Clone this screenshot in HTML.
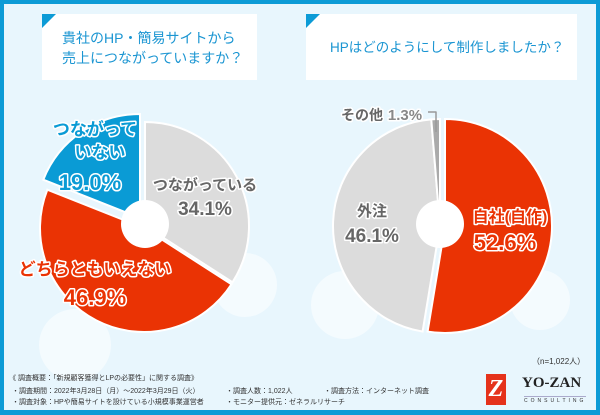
<!DOCTYPE html>
<html><head><meta charset="utf-8">
<style>
body{margin:0;width:600px;height:415px;overflow:hidden;font-family:"Liberation Sans","Noto Sans CJK JP",sans-serif;}
#frame{position:absolute;left:0;top:0;width:600px;height:415px;background:#0c9bd6;}
#inner{position:absolute;left:4px;top:4px;width:592px;height:406px;background:#e8f6fd;}
.tbox{position:absolute;background:#fff;color:#1a95d2;font-size:14px;line-height:20px;white-space:nowrap;}
.tbox .corner{position:absolute;left:0;top:0;width:0;height:0;border-top:14px solid #0c9bd6;border-right:14px solid transparent;}
.note{position:absolute;font-size:7px;line-height:9px;color:#333;white-space:nowrap;}
</style></head><body>
<div id="frame"></div>
<div id="inner"></div>
<div class="tbox" style="left:42px;top:14px;width:215px;height:66px;">
<div class="corner"></div>
<div style="position:absolute;left:20px;top:14px;">貴社のHP・簡易サイトから<br>売上につながっていますか？</div></div>
<div class="tbox" style="left:306px;top:14px;width:271px;height:66px;">
<div class="corner"></div>
<div style="position:absolute;left:24px;top:24px;font-size:13.5px;">HPはどのようにして制作しましたか？</div></div>
<svg id="chart" width="600" height="415" style="position:absolute;left:0;top:0;">
<g fill="#f4fbfe">
<circle cx="245" cy="285" r="32"/><circle cx="75" cy="345" r="36"/><circle cx="345" cy="305" r="34"/><circle cx="540" cy="300" r="30"/>
</g>
<g id="pies"></g>
<g id="labels" font-family="Liberation Sans, Noto Sans CJK JP, sans-serif" font-weight="bold" stroke="#fff" stroke-width="3" paint-order="stroke" stroke-linejoin="round"></g>
</svg>
<div class="note" style="left:532px;top:357px;font-size:8px;">（n=1,022人）</div>
<div class="note" style="left:9px;top:374px;">《 調査概要：「新規顧客獲得とLPの必要性」に関する調査》</div>
<div class="note" style="left:12px;top:387px;">・調査期間：2022年3月28日（月）〜2022年3月29日（火）</div>
<div class="note" style="left:226px;top:387px;">・調査人数：1,022人</div>
<div class="note" style="left:324px;top:387px;">・調査方法：インターネット調査</div>
<div class="note" style="left:12px;top:398px;">・調査対象：HPや簡易サイトを設けている小規模事業運営者</div>
<div class="note" style="left:226px;top:398px;">・モニター提供元：ゼネラルリサーチ</div>
<div style="position:absolute;left:486px;top:374px;width:20px;height:31px;background:#e5321b;color:#fff;font:bold 24px 'Liberation Serif',serif;text-align:center;line-height:31px;font-style:italic;">Z</div>
<div style="position:absolute;left:522px;top:375px;font:bold 15px 'Liberation Serif',serif;color:#222;">YO-ZAN</div>
<div style="position:absolute;left:524px;top:396px;font:5px 'Liberation Sans',sans-serif;line-height:8px;color:#333;letter-spacing:3px;border-top:1px solid #aac;">CONSULTING</div>
<script>
const leftCats=["つながっている","どちらともいえない","つながっていない"];
const leftVals=[34.1,46.9,19.0];
const rightCats=["自社(自作)","外注","その他"];
const rightVals=[52.6,46.1,1.3];
const NS="http://www.w3.org/2000/svg";
function pt(cx,cy,r,frac){const a=frac*2*Math.PI-Math.PI/2;return [cx+r*Math.cos(a),cy+r*Math.sin(a)];}
function drawPie(vals,colors,cx,cy,r,offsets,name){
  const g=document.getElementById('pies');
  const tot=vals.reduce((a,b)=>a+b,0);let acc=0;
  vals.forEach((v,i)=>{
    const s=acc/tot,e=(acc+v)/tot;acc+=v;
    const ox=offsets[i][0],oy=offsets[i][1];
    const p0=pt(cx+ox,cy+oy,r,s),p1=pt(cx+ox,cy+oy,r,e);
    const p=document.createElementNS(NS,'path');
    p.setAttribute('d',`M${cx+ox},${cy+oy}L${p0[0]},${p0[1]}A${r},${r} 0 ${e-s>0.5?1:0} 1 ${p1[0]},${p1[1]}Z`);
    p.setAttribute('fill',colors[i]);p.setAttribute('stroke','#fff');p.setAttribute('stroke-width','2');
    
    
    g.appendChild(p);
  });
  const h=document.createElementNS(NS,'circle');
  h.setAttribute('cx',cx);h.setAttribute('cy',cy-2);h.setAttribute('r',24);h.setAttribute('fill','#fff');
  
  
  g.appendChild(h);
}
drawPie(leftVals,["#dcdcdc","#ea3304","#0a9bd5"],145,226,104,[[0,0],[-1,2],[-5,-8]],'left-pie');
drawPie(rightVals,["#ea3304","#dcdcdc","#aaaaaa"],440,226,107,[[5,0],[0,0],[0,0]],'right-pie');
const L=document.getElementById('labels');
function txt(x,y,s,size,fill,name,anchor){
  const t=document.createElementNS(NS,'text');
  t.setAttribute('x',x);t.setAttribute('y',y);t.setAttribute('font-size',size);t.setAttribute('fill',fill);
  t.setAttribute('text-anchor',anchor||'middle');t.textContent=s;
  
  
  L.appendChild(t);
}
txt(205,190,leftCats[0],15,"#666","label-connected");
txt(205,215,leftVals[0].toFixed(1)+"%",19,"#666","value-connected");
txt(95,275,leftCats[1],17,"#ea3304","label-neither");
txt(95,305,leftVals[1].toFixed(1)+"%",22,"#ea3304","value-neither");
txt(95,135,"つながって",17,"#0a9bd5","label-not-connected-1");
txt(100,158,"いない",17,"#0a9bd5","label-not-connected-2");
txt(90,190,leftVals[2].toFixed(1)+"%",22,"#0a9bd5","value-not-connected");
txt(510,222,rightCats[0],16,"#ea3304","label-inhouse");
txt(505,250,rightVals[0].toFixed(1)+"%",22,"#ea3304","value-inhouse");
txt(372,216,rightCats[1],15,"#666","label-outsourced");
txt(372,242,rightVals[1].toFixed(1)+"%",19,"#666","value-outsourced");
txt(362,120,rightCats[2],14,"#666","label-other");
txt(405,120,rightVals[2].toFixed(1)+"%",15,"#888","value-other");
const ln=document.createElementNS(NS,'polyline');
ln.setAttribute('points','428,112 436,112 436,132');ln.setAttribute('fill','none');ln.setAttribute('stroke','#999');ln.setAttribute('stroke-width','1.5');


L.appendChild(ln);
</script>
</body></html>
